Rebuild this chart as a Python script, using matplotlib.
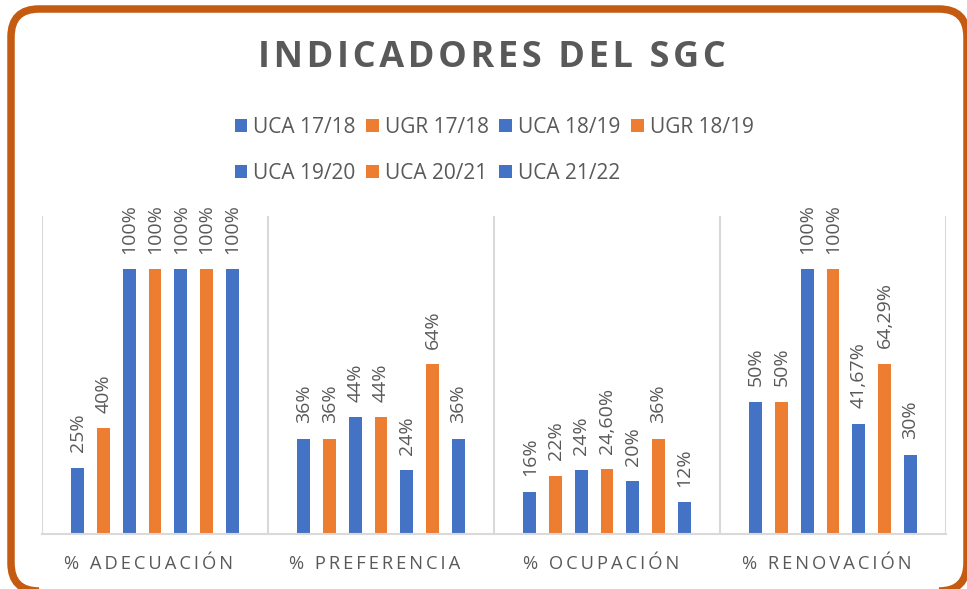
import numpy as np
import matplotlib.pyplot as plt
from matplotlib.patches import FancyBboxPatch
from matplotlib.transforms import IdentityTransform

plt.rcParams['font.family'] = ['Open Sans', 'DejaVu Sans']

# ===========================
# Data
# ===========================
categories = ["% ADECUACIÓN", "% PREFERENCIA", "% OCUPACIÓN", "% RENOVACIÓN"]
series_names = ["UCA 17/18", "UGR 17/18", "UCA 18/19", "UGR 18/19",
                "UCA 19/20", "UCA 20/21", "UCA 21/22"]
uca_1718 = [25, 36, 16, 50]
ugr_1718 = [40, 36, 22, 50]
uca_1819 = [100, 44, 24, 100]
ugr_1819 = [100, 44, 24.6, 100]
uca_1920 = [100, 24, 20, 41.67]
uca_2021 = [100, 64, 36, 64.29]
uca_2122 = [100, 36, 12, 30]
series_values = [uca_1718, ugr_1718, uca_1819, ugr_1819, uca_1920, uca_2021, uca_2122]

BLUE = "#4472C4"
ORANGE = "#ED7D31"
colors = [BLUE, ORANGE, BLUE, ORANGE, BLUE, ORANGE, BLUE]
GRAY = "#595959"


def fmt(v):
    if float(v).is_integer():
        return f"{int(v)}%"
    return f"{v:.2f}".replace(".", ",") + "%"


def spaced(s, sep="\u2009"):
    return sep.join(s)


# ===========================
# Plot
# ===========================
fig = plt.figure(figsize=(9.67, 5.89), dpi=100)
ax = fig.add_axes([42 / 967, 55 / 589, 904 / 967, 318 / 589])

x = np.arange(len(categories))
slot = 0.1137
bar_w = 0.0575
handles = []
for i, (name, vals) in enumerate(zip(series_names, series_values)):
    pos = x + (i - 3) * slot
    b = ax.bar(pos, vals, width=bar_w, color=colors[i], label=name)
    handles.append(b)
    for px, v in zip(pos, vals):
        ax.annotate(fmt(v), (px, v), xytext=(0, 11), textcoords="offset points",
                    rotation=90, ha="center", va="bottom",
                    color=GRAY, fontsize=14)

ax.set_xlim(-0.5, len(categories) - 0.5)
ax.set_ylim(0, 120)
ax.set_yticks([])
ax.set_xticks(x)
# trailing space mimics Excel's letter spacing after the last glyph
ax.set_xticklabels([spaced(c) + "\u2002\u2009" for c in categories],
                   color=GRAY, fontsize=13.2)
ax.tick_params(axis="x", length=0, pad=15)
for s in ["top", "left", "right"]:
    ax.spines[s].set_visible(False)
ax.spines["bottom"].set_color("#D9D9D9")
ax.spines["bottom"].set_linewidth(1.5)
for sep in np.arange(-0.5, len(categories), 1.0):
    ax.axvline(sep, color="#D9D9D9", linewidth=1.5)

# legend: reorder so columns fill into two left-aligned rows
order = [0, 4, 1, 5, 2, 6, 3]
fig.legend([handles[k] for k in order], [series_names[k] for k in order],
           ncol=4, loc="upper center", bbox_to_anchor=(0.511, 0.833),
           frameon=False, fontsize=15, labelcolor=GRAY,
           handlelength=0.6, handleheight=0.6, handletextpad=0.3,
           columnspacing=0.5, labelspacing=1.2)

fig.text(0.509, 0.902, spaced("INDICADORES DEL SGC", "\u200a"), ha="center",
         va="center", fontsize=26, fontweight="bold", color=GRAY)

# rounded orange frame (right and bottom edges run off the picture)
frame = FancyBboxPatch((11, -2), 956, 582, boxstyle="round,pad=0,rounding_size=28",
                       linewidth=5.4, edgecolor="#C55A11", facecolor="none",
                       transform=IdentityTransform(), clip_on=False)
fig.patches.append(frame)

plt.savefig("out.png", dpi=100)
